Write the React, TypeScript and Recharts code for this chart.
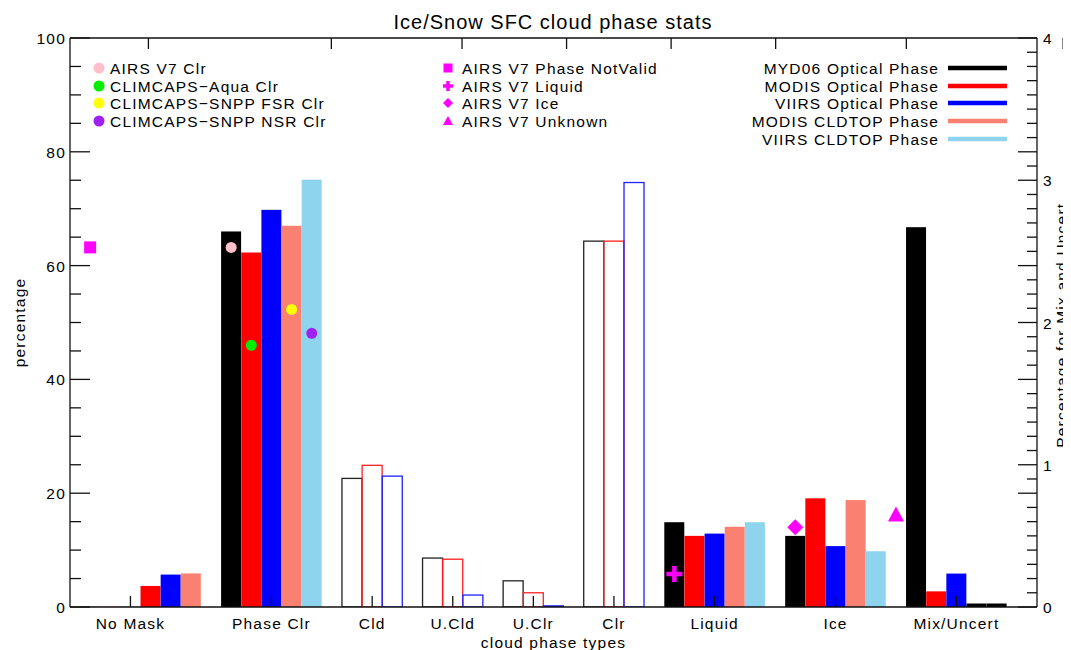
import React from 'react';
import { ComposedChart, XAxis, YAxis, Bar, Scatter } from 'recharts';

// ---------------- data ----------------
const CATEGORIES = ['No Mask', 'Phase Clr', 'Cld', 'U.Cld', 'U.Clr', 'Clr', 'Liquid', 'Ice', 'Mix/Uncert'];
// position of each category on the bar-slot axis (one slot = one bar)
const CATEGORY_X = [3, 10, 15, 19, 23, 27, 32, 38, 44];
// centre slot of the 5 filled bars / the 3 hollow bars of each category
const FILLED_GROUP_X = [5, 10, null, null, null, null, 32, 38, 44];
const HOLLOW_GROUP_X = [2, null, 15, 19, 23, 27, null, null, null];
// categories plotted against the right axis (Percentage for Mix and Uncert.)
const RIGHT_AXIS_CATEGORIES = ['Mix/Uncert'];

// filled bars
const MYD06_OPTICAL = [null, 66.0, null, null, null, null, 14.9, 12.5, 2.67];
const MODIS_OPTICAL = [3.7, 62.3, null, null, null, null, 12.5, 19.1, 0.11];
const VIIRS_OPTICAL = [5.7, 69.8, null, null, null, null, 12.9, 10.7, 0.235];
const MODIS_CLDTOP = [5.9, 67.0, null, null, null, null, 14.1, 18.8, 0];
const VIIRS_CLDTOP = [null, 75.1, null, null, null, null, 14.9, 9.8, 0];
// hollow bars (cloud mask classes)
const MYD06_MASK = [0, null, 22.6, 8.6, 4.6, 64.3, null, null, null];
const MODIS_MASK = [0, null, 24.9, 8.4, 2.5, 64.3, null, null, null];
const VIIRS_MASK = [0, null, 23.0, 2.1, 0.2, 74.6, null, null, null];

// point markers
const AIRS_V7_CLR = [{ x: 8, y: 63.2 }];
const CLIMCAPS_AQUA_CLR = [{ x: 9, y: 46.0 }];
const CLIMCAPS_SNPP_FSR_CLR = [{ x: 11, y: 52.3 }];
const CLIMCAPS_SNPP_NSR_CLR = [{ x: 12, y: 48.1 }];
const AIRS_V7_NOTVALID = [{ x: 1, y: 63.2 }];
const AIRS_V7_LIQUID = [{ x: 30, y: 5.8 }];
const AIRS_V7_ICE = [{ x: 36, y: 14.0 }];
const AIRS_V7_UNKNOWN = [{ x: 41, y: 0.65 }]; // right axis

// ticks
const X_DOMAIN = [0, 48];
const LEFT_TICKS = [0, 5, 10, 15, 20, 25, 30, 35, 40, 45, 50, 55, 60, 65, 70, 75, 80, 85, 90, 95, 100];
const LEFT_LABELED = [0, 20, 40, 60, 80, 100];
const RIGHT_TICKS = Array.from({ length: 41 }, (_, i) => i / 10);
const RIGHT_LABELED = [0, 1, 2, 3, 4];

// ---------------- styles ----------------
const FONT = '"Liberation Sans", Arial, Helvetica, sans-serif';
const FS = 15.5;
const LS = 1.2;
const AXIS = '#111';
const W = 1063;
const H = 642;

const FILLED_SERIES = [
  { name: 'MYD06 Optical Phase', values: MYD06_OPTICAL, color: '#000000' },
  { name: 'MODIS Optical Phase', values: MODIS_OPTICAL, color: '#ff0000' },
  { name: 'VIIRS Optical Phase', values: VIIRS_OPTICAL, color: '#0000ff' },
  { name: 'MODIS CLDTOP Phase', values: MODIS_CLDTOP, color: '#fa8072' },
  { name: 'VIIRS CLDTOP Phase', values: VIIRS_CLDTOP, color: '#8fd4ee' },
];
const HOLLOW_SERIES = [
  { name: 'MYD06 mask', values: MYD06_MASK, color: '#222222' },
  { name: 'MODIS mask', values: MODIS_MASK, color: '#ff2020' },
  { name: 'VIIRS mask', values: VIIRS_MASK, color: '#2020ff' },
];

type Row = { x: number; lv?: number; rv?: number; hollow: boolean; color: string };

const TABLE: Row[] = [];
CATEGORIES.forEach((cat, c) => {
  const right = RIGHT_AXIS_CATEGORIES.includes(cat);
  const hc = HOLLOW_GROUP_X[c];
  if (hc != null) {
    HOLLOW_SERIES.forEach((s, i) => {
      const v = s.values[c];
      if (v == null) return;
      TABLE.push({ x: hc + i - 1, [right ? 'rv' : 'lv']: v, hollow: true, color: s.color } as Row);
    });
  }
  const fc = FILLED_GROUP_X[c];
  if (fc != null) {
    FILLED_SERIES.forEach((s, i) => {
      const v = s.values[c];
      if (v == null) return;
      TABLE.push({ x: fc + i - 2, [right ? 'rv' : 'lv']: v, hollow: false, color: s.color } as Row);
    });
  }
});
TABLE.sort((a, b) => a.x - b.x);

// ---------------- shapes ----------------
function makeBarShape(key: 'lv' | 'rv') {
  return (props: any) => {
    const { x, y, width, height, payload } = props;
    const v = payload ? payload[key] : undefined;
    if (v == null || !isFinite(x) || !isFinite(y)) return <g />;
    if (payload.hollow) {
      if (v === 0)
        return <line x1={x} x2={x + width} y1={y} y2={y} stroke={payload.color} strokeOpacity={0.45} strokeWidth={1.2} />;
      return <rect x={x} y={y} width={width} height={height} fill="none" stroke={payload.color} strokeWidth={1.3} />;
    }
    if (v === 0) return <rect x={x} y={y - 3.5} width={width} height={7} fill="#000" />;
    return <rect x={x} y={y} width={width} height={height} fill={payload.color} />;
  };
}

const circle = (color: string, r = 5.5) => (p: any) => <circle cx={p.cx} cy={p.cy} r={r} fill={color} />;
const square = (color: string, s = 12) => (p: any) => (
  <rect x={p.cx - s / 2} y={p.cy - s / 2} width={s} height={s} fill={color} />
);
const plus = (color: string, s = 16, t = 4.5) => (p: any) => (
  <g fill={color}>
    <rect x={p.cx - s / 2} y={p.cy - t / 2} width={s} height={t} />
    <rect x={p.cx - t / 2} y={p.cy - s / 2} width={t} height={s} />
  </g>
);
const diamond = (color: string, s = 16) => (p: any) => (
  <path d={`M${p.cx},${p.cy - s / 2}L${p.cx + s / 2},${p.cy}L${p.cx},${p.cy + s / 2}L${p.cx - s / 2},${p.cy}Z`} fill={color} />
);
const triangle = (color: string, s = 16) => (p: any) => (
  <path d={`M${p.cx},${p.cy - s / 2}L${p.cx + s / 2},${p.cy + s / 2 - 1}L${p.cx - s / 2},${p.cy + s / 2 - 1}Z`} fill={color} />
);

// ---------------- ticks ----------------
const textProps = { fontFamily: FONT, fontSize: FS, letterSpacing: LS, fill: '#000' };

const LeftTick = (p: any) => {
  const v = p.payload.value;
  const major = LEFT_LABELED.includes(v);
  return (
    <g>
      <line x1={p.x} x2={p.x + (major ? 20 : 11)} y1={p.y} y2={p.y} stroke={AXIS} strokeWidth={1.3} />
      {major && (
        <text x={p.x - 4} y={p.y + 6} textAnchor="end" {...textProps}>
          {v}
        </text>
      )}
    </g>
  );
};

const RightTick = (p: any) => {
  const v = p.payload.value;
  const tenth = Math.round(v * 10);
  const labeled = RIGHT_LABELED.some((l) => Math.abs(l - v) < 1e-6);
  const long = labeled || tenth % 8 === 0;
  return (
    <g>
      <line x1={p.x} x2={p.x - (long ? 19 : 10)} y1={p.y} y2={p.y} stroke={AXIS} strokeWidth={1.3} />
      {labeled && (
        <text x={p.x + 6} y={p.y + 6} textAnchor="start" {...textProps}>
          {Math.round(v)}
        </text>
      )}
    </g>
  );
};

const BottomTick = (p: any) => {
  const idx = CATEGORY_X.indexOf(p.payload.value);
  return (
    <g>
      <line x1={p.x} x2={p.x} y1={p.y} y2={p.y - 11} stroke={AXIS} strokeWidth={1.3} />
      <text x={p.x} y={p.y + 22} textAnchor="middle" {...textProps}>
        {CATEGORIES[idx]}
      </text>
    </g>
  );
};

const TopTick = (p: any) => (
  <line x1={p.x} x2={p.x} y1={p.y} y2={p.y + 11} stroke={AXIS} strokeWidth={1.3} />
);

// ---------------- legend ----------------
const ROWS = [60, 78, 95, 113, 131];

const Overlay = () => (
  <svg width={W} height={H} style={{ position: 'absolute', left: 0, top: 0, pointerEvents: 'none' }}>
    <text x={545} y={21} textAnchor="middle" fontFamily={FONT} fontSize={20} letterSpacing={1} fill="#000">
      Ice/Snow SFC cloud phase stats
    </text>
    <text
      x={1053}
      y={314.5}
      dy={5.5}
      transform="rotate(-90, 1053, 314.5)"
      textAnchor="middle"
      {...textProps}
    >
      Percentage for Mix and Uncert.
    </text>
    {[
      ['AIRS V7 Clr', '#ffc0cb'],
      ['CLIMCAPS\u2212Aqua Clr', '#00ee00'],
      ['CLIMCAPS\u2212SNPP FSR Clr', '#ffff00'],
      ['CLIMCAPS\u2212SNPP NSR Clr', '#a020f0'],
    ].map(([t, c], i) => (
      <g key={t}>
        <circle cx={91} cy={ROWS[i]} r={5.5} fill={c} />
        <text x={102} y={ROWS[i] + 5.5} {...textProps}>
          {t}
        </text>
      </g>
    ))}
    {[
      ['AIRS V7 Phase NotValid', square('#ff00ff', 9)],
      ['AIRS V7 Liquid', plus('#ff00ff', 10, 3.5)],
      ['AIRS V7 Ice', diamond('#ff00ff', 10)],
      ['AIRS V7 Unknown', triangle('#ff00ff', 10)],
    ].map(([t, shape]: any, i) => (
      <g key={t}>
        {shape({ cx: 440, cy: ROWS[i] })}
        <text x={454} y={ROWS[i] + 5.5} {...textProps}>
          {t}
        </text>
      </g>
    ))}
    {FILLED_SERIES.map((s, i) => (
      <g key={s.name}>
        <text x={931} y={ROWS[i] + 5.5} textAnchor="end" {...textProps}>
          {s.name}
        </text>
        <line x1={940} x2={999} y1={ROWS[i]} y2={ROWS[i]} stroke={s.color} strokeWidth={4.5} />
      </g>
    ))}
  </svg>
);

export default function App() {
  return (
    <div style={{ position: 'relative', width: W, height: H }}>
      <ComposedChart
        width={W}
        height={H}
        data={TABLE}
        margin={{ top: 20, right: 0, bottom: 0, left: 0 }}
        barCategoryGap={0}
        barGap={0}
      >
        <XAxis
          xAxisId="x"
          dataKey="x"
          type="number"
          domain={X_DOMAIN}
          ticks={CATEGORY_X}
          interval={0}
          height={43}
          tickSize={0}
          tickMargin={0}
          tickLine={false}
          tick={BottomTick}
          axisLine={{ stroke: AXIS, strokeWidth: 1.3 }}
          allowDataOverflow
          label={{
            value: 'cloud phase types',
            position: 'insideBottom',
            offset: 2,
            fontFamily: FONT,
            fontSize: FS,
            letterSpacing: LS,
            fill: '#000',
          }}
        />
        <XAxis xAxisId="x2" dataKey="x" type="number" domain={X_DOMAIN} hide allowDataOverflow />
        <XAxis
          xAxisId="top"
          orientation="top"
          type="number"
          domain={X_DOMAIN}
          ticks={CATEGORY_X}
          interval={0}
          height={10}
          tickSize={0}
          tickMargin={0}
          tickLine={false}
          tick={TopTick}
          axisLine={{ stroke: AXIS, strokeWidth: 1.3 }}
          allowDataOverflow
        />
        <YAxis
          yAxisId="left"
          type="number"
          domain={[0, 100]}
          ticks={LEFT_TICKS}
          interval={0}
          width={62}
          tickSize={0}
          tickMargin={0}
          tickLine={false}
          tick={LeftTick}
          axisLine={{ stroke: AXIS, strokeWidth: 1.3 }}
          allowDataOverflow
          label={{
            value: 'percentage',
            angle: -90,
            position: 'insideLeft',
            offset: 11,
            style: { textAnchor: 'middle' },
            fontFamily: FONT,
            fontSize: FS,
            letterSpacing: LS,
            fill: '#000',
          }}
        />
        <YAxis
          yAxisId="right"
          orientation="right"
          type="number"
          domain={[0, 4]}
          ticks={RIGHT_TICKS}
          interval={0}
          width={34}
          tickSize={0}
          tickMargin={0}
          tickLine={false}
          tick={RightTick}
          axisLine={{ stroke: AXIS, strokeWidth: 1.3 }}
          allowDataOverflow
        />
        <Bar dataKey="lv" xAxisId="x" yAxisId="left" shape={makeBarShape('lv')} isAnimationActive={false} />
        <Bar dataKey="rv" xAxisId="x2" yAxisId="right" shape={makeBarShape('rv')} isAnimationActive={false} />
        <Scatter data={AIRS_V7_CLR} dataKey="y" xAxisId="x" yAxisId="left" shape={circle('#ffc0cb')} isAnimationActive={false} />
        <Scatter data={CLIMCAPS_AQUA_CLR} dataKey="y" xAxisId="x" yAxisId="left" shape={circle('#00ee00')} isAnimationActive={false} />
        <Scatter data={CLIMCAPS_SNPP_FSR_CLR} dataKey="y" xAxisId="x" yAxisId="left" shape={circle('#ffff00')} isAnimationActive={false} />
        <Scatter data={CLIMCAPS_SNPP_NSR_CLR} dataKey="y" xAxisId="x" yAxisId="left" shape={circle('#a020f0')} isAnimationActive={false} />
        <Scatter data={AIRS_V7_NOTVALID} dataKey="y" xAxisId="x" yAxisId="left" shape={square('#ff00ff', 12)} isAnimationActive={false} />
        <Scatter data={AIRS_V7_LIQUID} dataKey="y" xAxisId="x" yAxisId="left" shape={plus('#ff00ff', 16, 4.5)} isAnimationActive={false} />
        <Scatter data={AIRS_V7_ICE} dataKey="y" xAxisId="x" yAxisId="left" shape={diamond('#ff00ff', 16)} isAnimationActive={false} />
        <Scatter data={AIRS_V7_UNKNOWN} dataKey="y" xAxisId="x" yAxisId="right" shape={triangle('#ff00ff', 16)} isAnimationActive={false} />
      </ComposedChart>
      <Overlay />
    </div>
  );
}
